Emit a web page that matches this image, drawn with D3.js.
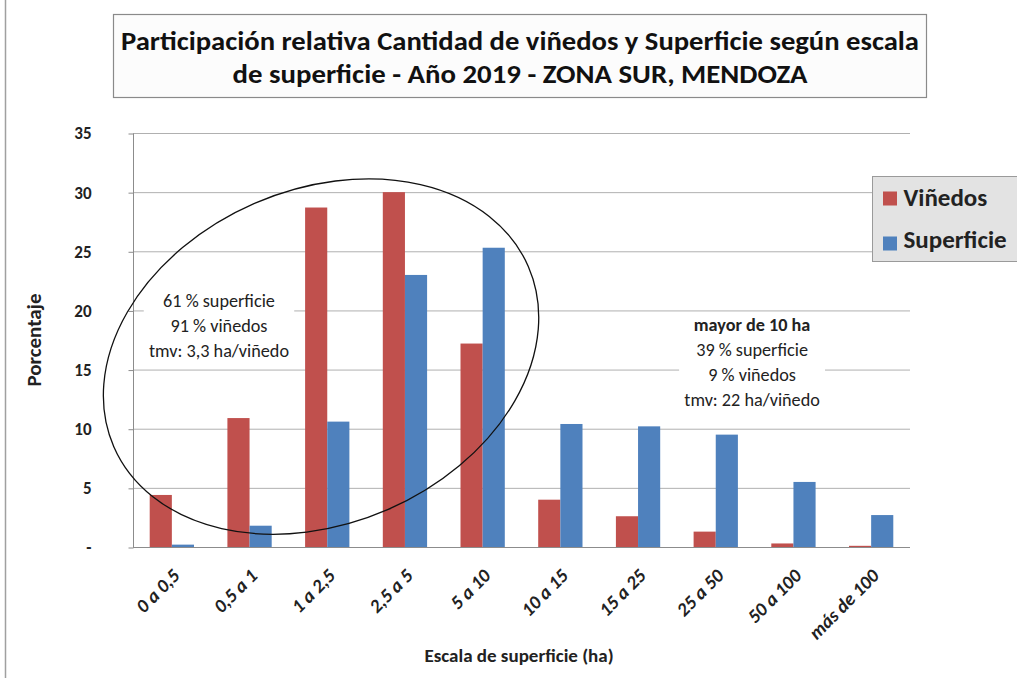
<!DOCTYPE html>
<html>
<head>
<meta charset="utf-8">
<script src="https://cdn.jsdelivr.net/npm/d3@7"></script>
<style>
  body { margin: 0; background: #fff; }
  svg { display: block; font-family: Carlito, Lato, 'Open Sans', sans-serif; }
</style>
</head>
<body>
<svg id="chart" width="1017" height="678"></svg>
<script>
var categories = ['0 a 0,5', '0,5 a 1', '1 a 2,5', '2,5 a 5', '5 a 10', '10 a 15', '15 a 25', '25 a 50', '50 a 100', 'más de 100']
var vinedos = [4.4, 10.9, 28.7, 30.0, 17.2, 4.0, 2.6, 1.3, 0.3, 0.1]
var superficie = [0.2, 1.8, 10.6, 23.0, 25.3, 10.4, 10.2, 9.5, 5.5, 2.7]
var yTicks = [0, 5, 10, 15, 20, 25, 30, 35]
var seriesNames = ['Viñedos', 'Superficie']
var colors = ['#C0504D', '#4F81BD']
var leftNote = ['61 % superficie', '91 % viñedos', 'tmv: 3,3 ha/viñedo']
var rightNote = ['mayor de 10 ha', '39 % superficie', '9 % viñedos', 'tmv: 22 ha/viñedo']
var titleLines = ['Participación relativa Cantidad de viñedos y Superficie según escala', 'de superficie - Año 2019 - ZONA SUR, MENDOZA']

var svg = d3.select('#chart')
var margin = { left: 133, right: 107, top: 133, bottom: 131 }
var W = 1017, H = 678

// outer frame
svg.append('rect').attr('x', 5.5).attr('y', -2).attr('width', W).attr('height', H + 4)
  .attr('fill', 'none').attr('stroke', '#a0a0a0').attr('stroke-width', 1.5)

var x = d3.scaleBand().domain(categories).range([margin.left, W - margin.right]).paddingInner(0.43).paddingOuter(0.215)
var y = d3.scaleLinear().domain([0, 35]).range([H - margin.bottom, margin.top])

// gridlines
svg.append('g').selectAll('line').data(yTicks.slice(1)).join('line')
  .attr('x1', margin.left).attr('x2', W - margin.right)
  .attr('y1', function (d) { return y(d) + 0.5 }).attr('y2', function (d) { return y(d) + 0.5 })
  .attr('stroke', '#b0b0b0').attr('stroke-width', 1)

// text notes (white box only hides the gridlines, so drawn before the bars)
function note (lines, cx, top, boldFirst) {
  var g = svg.append('g').attr('transform', 'translate(' + cx + ',0) scale(1.04,1)')
  g.selectAll('text').data(lines).join('text')
    .attr('x', 0).attr('y', function (d, i) { return top + i * 25 })
    .attr('text-anchor', 'middle').attr('font-size', 17.5).attr('fill', '#222')
    .attr('font-weight', function (d, i) { return boldFirst && i === 0 ? 'bold' : 'normal' })
    .text(function (d) { return d })
  var bb = g.node().getBBox()
  g.insert('rect', 'text').attr('x', bb.x - 5).attr('y', bb.y - 2).attr('width', bb.width + 10).attr('height', bb.height + 4)
    .attr('fill', '#fff')
}
note(leftNote, x(categories[1]) - x.bandwidth() * 0.19, 307, false)
note(rightNote, x(categories[7]) + x.bandwidth() * 1.32, 331, true)

// y axis
var yAxis = d3.axisLeft(y).tickValues(yTicks).tickSize(5).tickPadding(37)
  .tickFormat(function (d) { return d === 0 ? '-' : d })
var gy = svg.append('g').attr('transform', 'translate(' + (margin.left + 0.5) + ',0.5)').call(yAxis)
gy.select('.domain').attr('stroke', '#8c8c8c').attr('d', 'M0,' + y(35) + 'V' + y(0))
gy.selectAll('.tick line').attr('stroke', '#8c8c8c')
gy.selectAll('.tick text').attr('font-size', 17).attr('font-weight', 'bold').attr('fill', '#222')
  .attr('font-family', 'Carlito, Lato, sans-serif')

// bars
var inner = d3.scaleBand().domain(seriesNames).range([0, x.bandwidth()])
var groups = svg.append('g').selectAll('g').data(categories).join('g')
  .attr('transform', function (d) { return 'translate(' + x(d) + ',0)' })
groups.selectAll('rect').data(function (d, i) { return [vinedos[i], superficie[i]] }).join('rect')
  .attr('x', function (d, j) { return inner(seriesNames[j]) })
  .attr('width', inner.bandwidth())
  .attr('y', function (d) { return y(d) })
  .attr('height', function (d) { return y(0) - y(d) })
  .attr('fill', function (d, j) { return colors[j] })

// x axis line
svg.append('line').attr('x1', margin.left).attr('x2', W - margin.right)
  .attr('y1', y(0) + 0.5).attr('y2', y(0) + 0.5).attr('stroke', '#8c8c8c')

// x tick labels
svg.append('g').selectAll('text').data(categories).join('text')
  .attr('transform', function (d) {
    return 'translate(' + (x(d) + x.bandwidth() / 2 + 9) + ',' + (y(0) + 30) + ') rotate(-45)'
  })
  .attr('text-anchor', 'end').attr('font-size', 19).attr('font-weight', 'bold').attr('font-style', 'italic')
  .attr('fill', '#222').text(function (d) { return d })

// axis titles
svg.append('text').attr('x', 519).attr('y', 662)
  .attr('text-anchor', 'middle').attr('font-size', 19).attr('font-weight', 'bold').attr('fill', '#222')
  .text('Escala de superficie (ha)')
svg.append('text').attr('transform', 'translate(41,' + y(17.5) + ') rotate(-90)')
  .attr('text-anchor', 'middle').attr('font-size', 21).attr('font-weight', 'bold').attr('fill', '#222')
  .text('Porcentaje')

// ellipse annotation round the small-vineyard groups
var ecx = x(categories[2]) + x.bandwidth() * 0.36
var ecy = y(16.1)
svg.append('ellipse').attr('cx', ecx).attr('cy', ecy).attr('rx', 226).attr('ry', 167)
  .attr('transform', 'rotate(-23.5,' + ecx + ',' + ecy + ')')
  .attr('fill', 'none').attr('stroke', '#111').attr('stroke-width', 1.3)

// legend
var lg = svg.append('g').attr('transform', 'translate(872.5,176.5)')
lg.append('rect').attr('width', 146).attr('height', 85).attr('fill', '#e3e3e3').attr('stroke', '#9a9a9a')
lg.selectAll('rect.sw').data(seriesNames).join('rect').attr('class', 'sw')
  .attr('x', 10.5).attr('y', function (d, i) { return 15 + i * 45 }).attr('width', 14).attr('height', 14)
  .attr('fill', function (d, i) { return colors[i] })
lg.selectAll('text').data(seriesNames).join('text')
  .attr('x', 31).attr('y', function (d, i) { return 29 + i * 42.5 })
  .attr('font-size', 25).attr('font-weight', 'bold').attr('fill', '#222').text(function (d) { return d })

// title
var tg = svg.append('g')
tg.append('rect').attr('x', 113.5).attr('y', 14.5).attr('width', 813).attr('height', 83)
  .attr('fill', '#fcfcfc').attr('stroke', '#8a8a8a').attr('stroke-width', 1.2)
var titleWidths = [798, 575]
tg.selectAll('text').data(titleLines).join('text')
  .attr('x', 520).attr('y', function (d, i) { return 50 + i * 33 })
  .attr('text-anchor', 'middle').attr('font-size', 25.5).attr('font-weight', 'bold').attr('fill', '#111')
  .attr('textLength', function (d, i) { return titleWidths[i] }).attr('lengthAdjust', 'spacingAndGlyphs')
  .text(function (d) { return d })
</script>
</body>
</html>
